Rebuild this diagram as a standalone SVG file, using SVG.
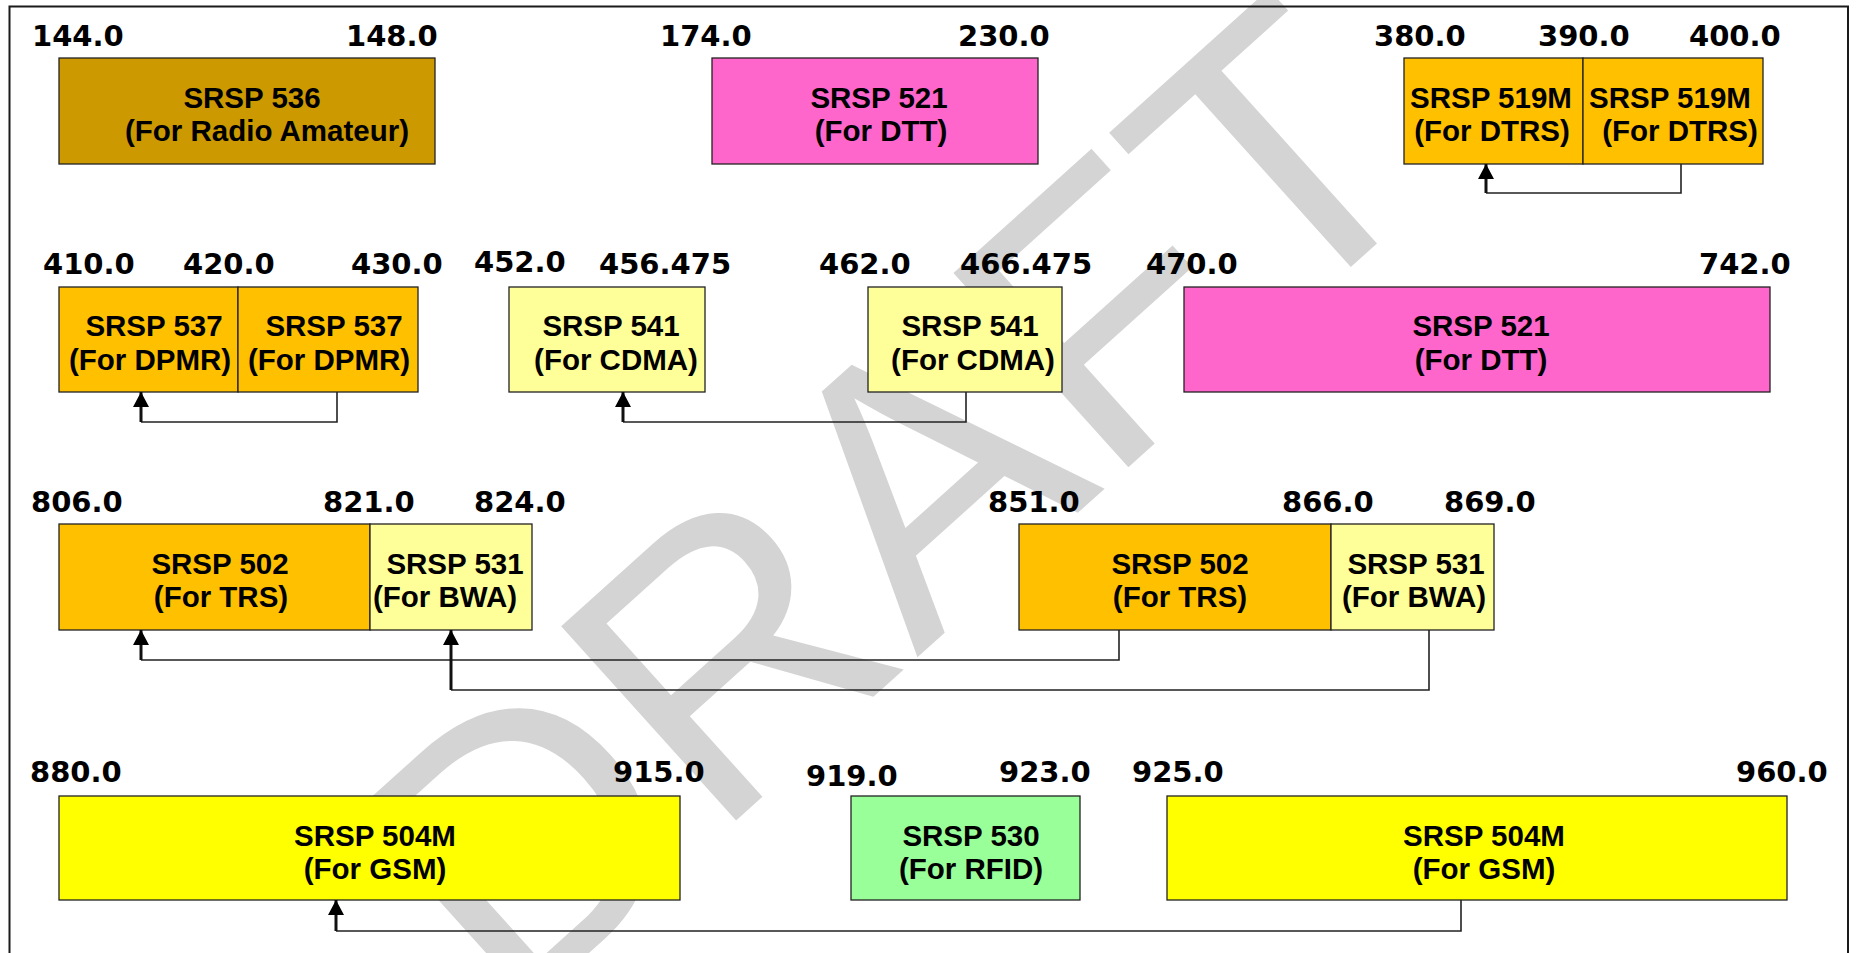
<svg xmlns="http://www.w3.org/2000/svg" width="1860" height="953" viewBox="0 0 1860 953">
<defs>
<style>
.frame{fill:none;stroke:#1a1a1a;stroke-width:2}
.box{stroke:#222;stroke-width:1.3}
.c536{fill:#CC9900}.c521{fill:#FF66CC}.corg{fill:#FFC000}.clt{fill:#FFFF99}.cyel{fill:#FFFF00}.cgrn{fill:#99FF99}
.t{font-family:"Liberation Sans",Arial,sans-serif;font-weight:bold;font-size:29.5px;fill:#000;text-anchor:middle}
.lab{font-family:"DejaVu Sans",Verdana,sans-serif;font-weight:bold;font-size:29px;fill:#000}
.ln{fill:none;stroke:#222;stroke-width:1.6}
.lnb{fill:none;stroke:#111;stroke-width:3}
.wm{font-family:"Liberation Sans",Arial,sans-serif;font-size:380px;fill:#d4d4d4}
</style>
<marker id="ah" markerUnits="userSpaceOnUse" viewBox="0 0 15 16" refX="15" refY="8" markerWidth="15" markerHeight="16" orient="auto">
<path d="M0,0 L15,8 L0,16 z" fill="#000"/>
</marker>
</defs>
<rect x="0" y="0" width="1860" height="953" fill="#fff"/>
<g id="watermark">
<text class="wm" transform="translate(509,1025) rotate(-42)">DRAFT</text>
</g>
<rect class="frame" x="9.5" y="6.5" width="1838.5" height="980"/>

<g id="labels">
<text class="lab" x="32" y="46">144.0</text>
<text class="lab" x="346" y="46">148.0</text>
<text class="lab" x="660" y="46">174.0</text>
<text class="lab" x="958" y="46">230.0</text>
<text class="lab" x="1374" y="46">380.0</text>
<text class="lab" x="1538" y="46">390.0</text>
<text class="lab" x="1689" y="46">400.0</text>

<text class="lab" x="43" y="274">410.0</text>
<text class="lab" x="183" y="274">420.0</text>
<text class="lab" x="351" y="274">430.0</text>
<text class="lab" x="474" y="272">452.0</text>
<text class="lab" x="599" y="274">456.475</text>
<text class="lab" x="819" y="274">462.0</text>
<text class="lab" x="960" y="274">466.475</text>
<text class="lab" x="1146" y="274">470.0</text>
<text class="lab" x="1699" y="274">742.0</text>

<text class="lab" x="31" y="512">806.0</text>
<text class="lab" x="323" y="512">821.0</text>
<text class="lab" x="474" y="512">824.0</text>
<text class="lab" x="988" y="512">851.0</text>
<text class="lab" x="1282" y="512">866.0</text>
<text class="lab" x="1444" y="512">869.0</text>

<text class="lab" x="30" y="782">880.0</text>
<text class="lab" x="613" y="782">915.0</text>
<text class="lab" x="806" y="786">919.0</text>
<text class="lab" x="999" y="782">923.0</text>
<text class="lab" x="1132" y="782">925.0</text>
<text class="lab" x="1736" y="782">960.0</text>
</g>

<g id="n536">
<rect class="box c536" x="59" y="58" width="376" height="106"/>
<text class="t" x="252" y="108">SRSP 536</text>
<text class="t" x="267" y="141">(For Radio Amateur)</text>
</g>
<g id="n521a">
<rect class="box c521" x="712" y="58" width="326" height="106"/>
<text class="t" x="879" y="108">SRSP 521</text>
<text class="t" x="881" y="141">(For DTT)</text>
</g>
<g id="n519a">
<rect class="box corg" x="1404" y="58" width="179" height="106"/>
<text class="t" x="1491" y="108">SRSP 519M</text>
<text class="t" x="1492" y="141">(For DTRS)</text>
</g>
<g id="n519b">
<rect class="box corg" x="1583" y="58" width="180" height="106"/>
<text class="t" x="1670" y="108">SRSP 519M</text>
<text class="t" x="1680" y="141">(For DTRS)</text>
</g>

<g id="n537a">
<rect class="box corg" x="59" y="287" width="179" height="105"/>
<text class="t" x="154" y="336">SRSP 537</text>
<text class="t" x="150" y="370">(For DPMR)</text>
</g>
<g id="n537b">
<rect class="box corg" x="238" y="287" width="180" height="105"/>
<text class="t" x="334" y="336">SRSP 537</text>
<text class="t" x="329" y="370">(For DPMR)</text>
</g>
<g id="n541a">
<rect class="box clt" x="509" y="287" width="196" height="105"/>
<text class="t" x="611" y="336">SRSP 541</text>
<text class="t" x="616" y="370">(For CDMA)</text>
</g>
<g id="n541b">
<rect class="box clt" x="868" y="287" width="194" height="105"/>
<text class="t" x="970" y="336">SRSP 541</text>
<text class="t" x="973" y="370">(For CDMA)</text>
</g>
<g id="n521b">
<rect class="box c521" x="1184" y="287" width="586" height="105"/>
<text class="t" x="1481" y="336">SRSP 521</text>
<text class="t" x="1481" y="370">(For DTT)</text>
</g>

<g id="n502a">
<rect class="box corg" x="59" y="524" width="311" height="106"/>
<text class="t" x="220" y="574">SRSP 502</text>
<text class="t" x="221" y="607">(For TRS)</text>
</g>
<g id="n531a">
<rect class="box clt" x="370" y="524" width="162" height="106"/>
<text class="t" x="455" y="574">SRSP 531</text>
<text class="t" x="445" y="607">(For BWA)</text>
</g>
<g id="n502b">
<rect class="box corg" x="1019" y="524" width="312" height="106"/>
<text class="t" x="1180" y="574">SRSP 502</text>
<text class="t" x="1180" y="607">(For TRS)</text>
</g>
<g id="n531b">
<rect class="box clt" x="1331" y="524" width="163" height="106"/>
<text class="t" x="1416" y="574">SRSP 531</text>
<text class="t" x="1414" y="607">(For BWA)</text>
</g>

<g id="n504a">
<rect class="box cyel" x="59" y="796" width="621" height="104"/>
<text class="t" x="375" y="846">SRSP 504M</text>
<text class="t" x="375" y="879">(For GSM)</text>
</g>
<g id="n530">
<rect class="box cgrn" x="851" y="796" width="229" height="104"/>
<text class="t" x="971" y="846">SRSP 530</text>
<text class="t" x="971" y="879">(For RFID)</text>
</g>
<g id="n504b">
<rect class="box cyel" x="1167" y="796" width="620" height="104"/>
<text class="t" x="1484" y="846">SRSP 504M</text>
<text class="t" x="1484" y="879">(For GSM)</text>
</g>

<g id="connectors">
<path class="ln" d="M1681,164 V193 H1486"/>
<path class="lnb" d="M1486,193 V164" marker-end="url(#ah)"/>
<path class="ln" d="M337,392 V422 H141"/>
<path class="lnb" d="M141,422 V392" marker-end="url(#ah)"/>
<path class="ln" d="M966,392 V422 H623"/>
<path class="lnb" d="M623,422 V392" marker-end="url(#ah)"/>
<path class="ln" d="M1119,630 V660 H141"/>
<path class="lnb" d="M141,660 V630" marker-end="url(#ah)"/>
<path class="ln" d="M1429,630 V690 H451"/>
<path class="lnb" d="M451,690 V630" marker-end="url(#ah)"/>
<path class="ln" d="M1461,900 V931 H336"/>
<path class="lnb" d="M336,931 V900" marker-end="url(#ah)"/>
</g>
</svg>
